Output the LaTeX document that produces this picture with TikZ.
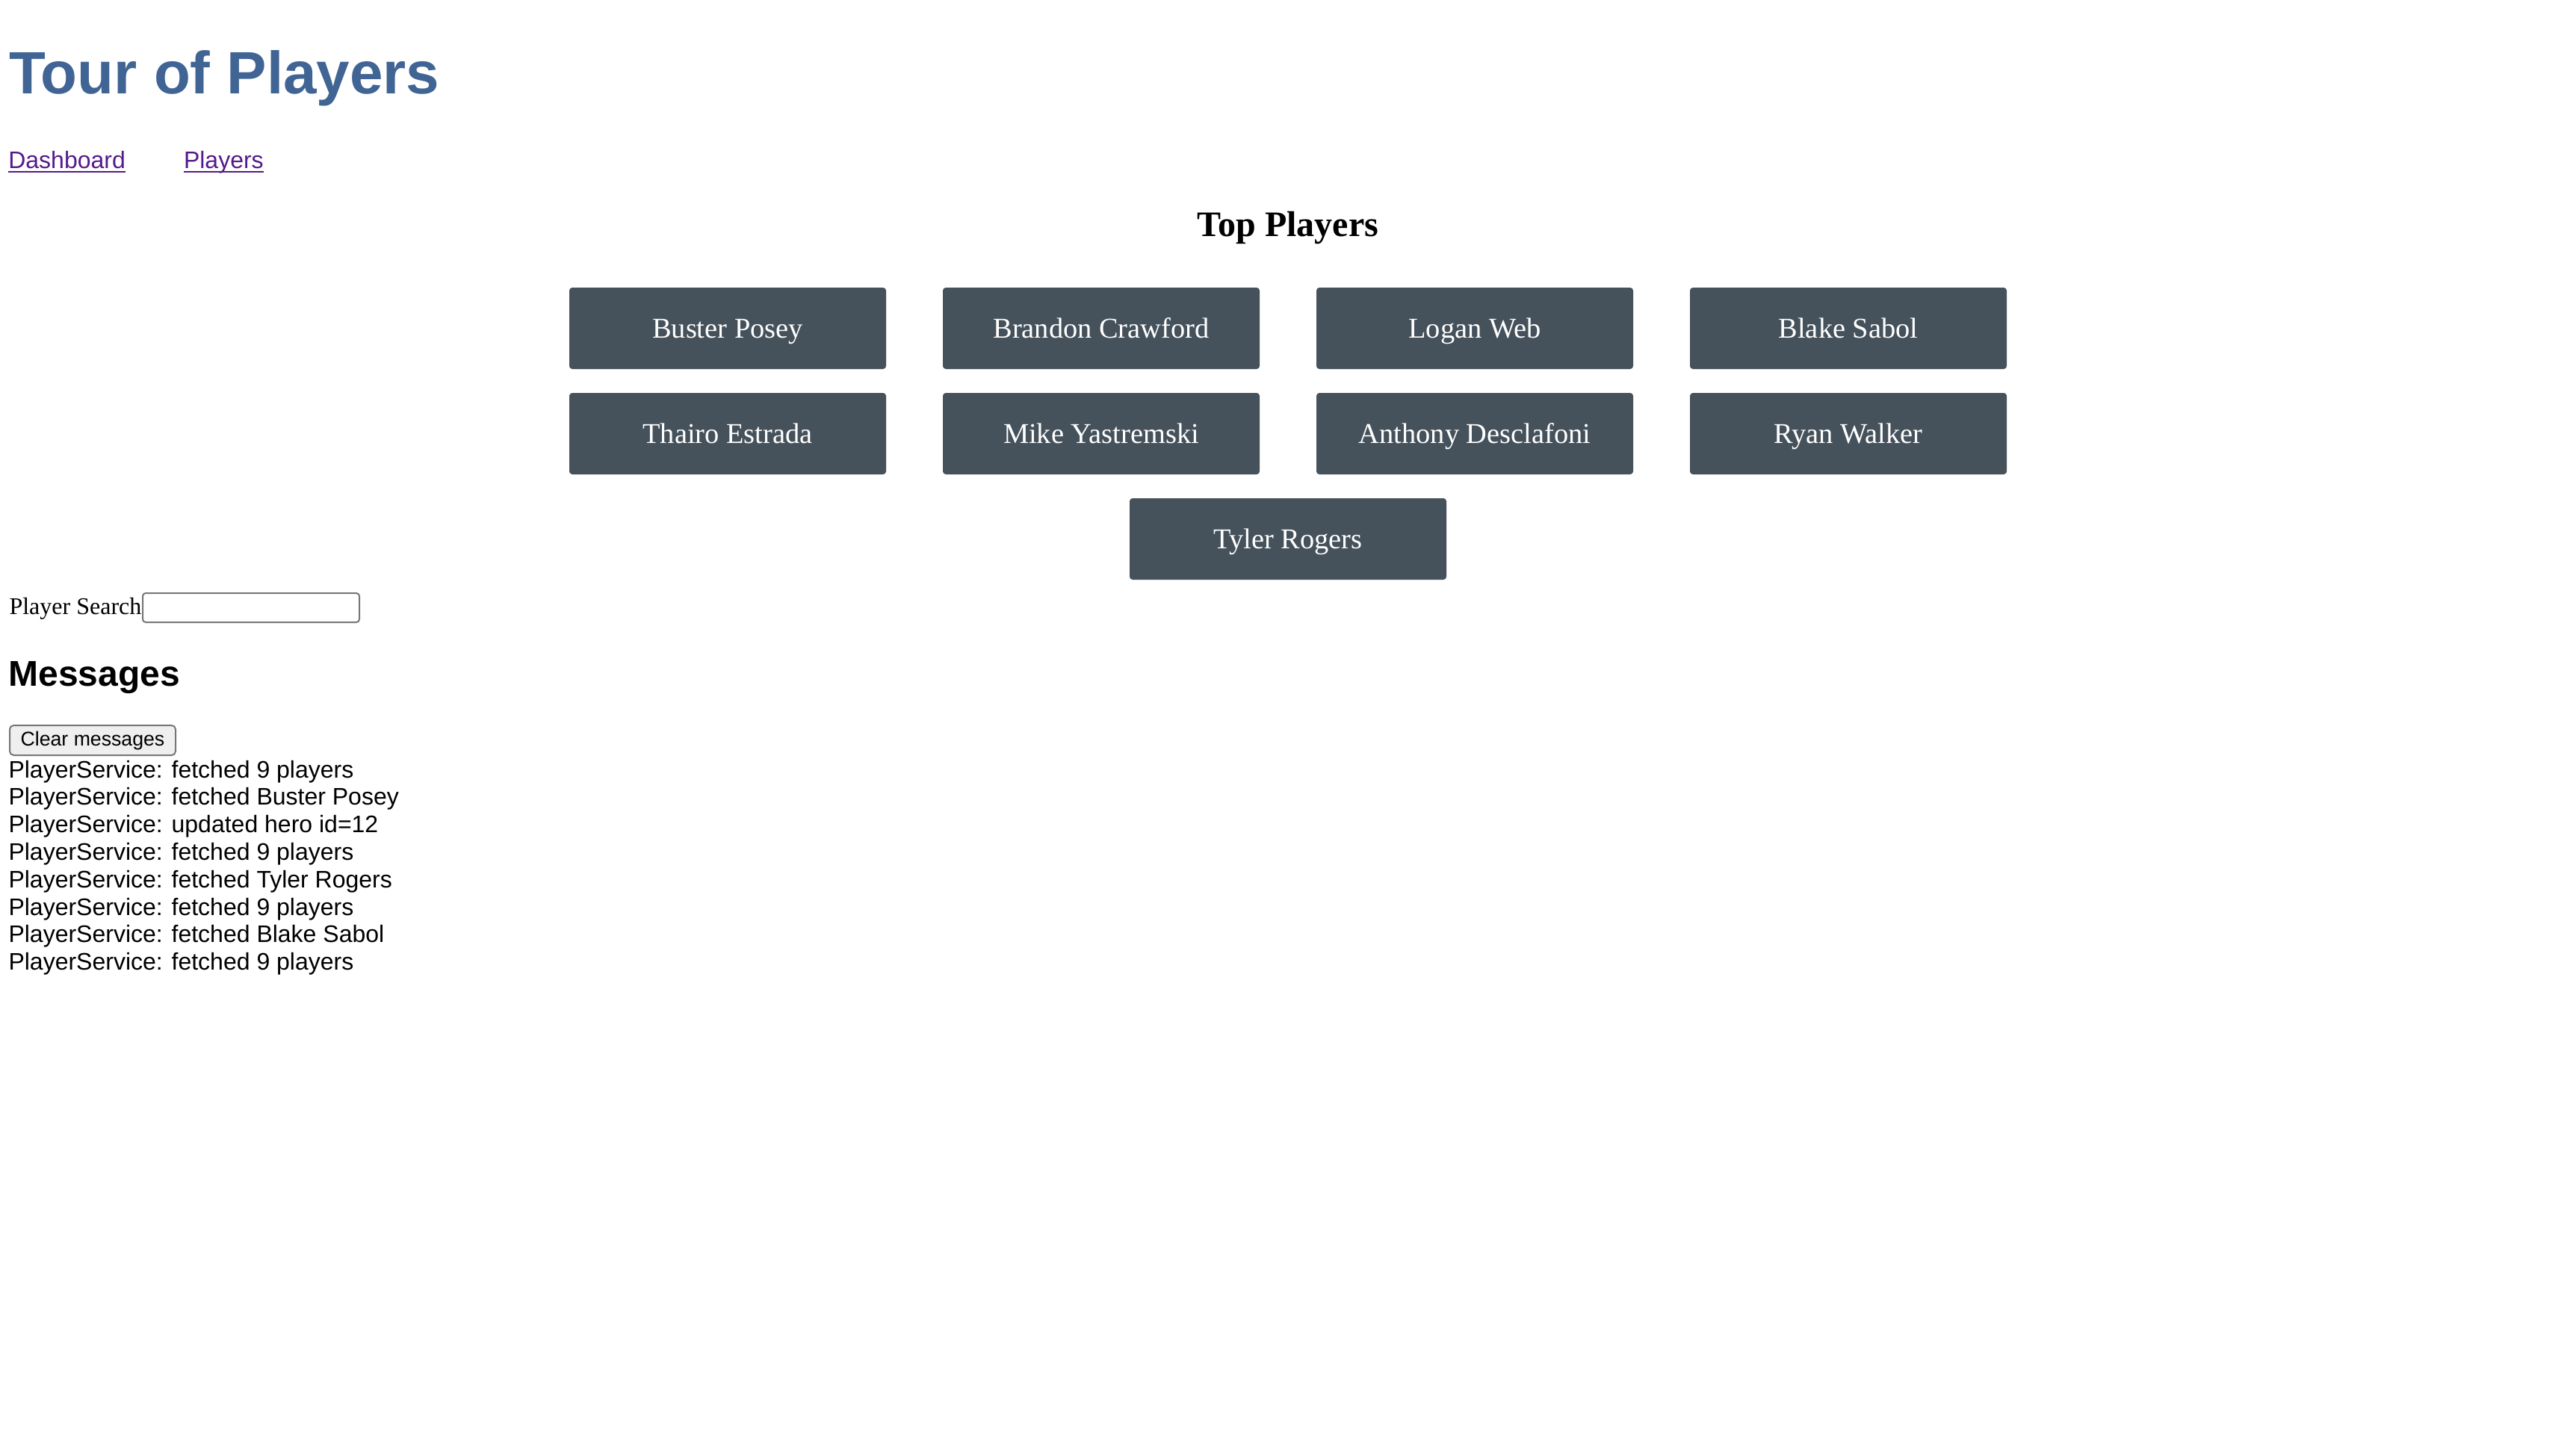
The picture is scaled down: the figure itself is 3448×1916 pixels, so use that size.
\documentclass[tikz,border=0pt]{standalone}
\usepackage{fontspec}
\setmainfont{Liberation Serif}
\setsansfont{Liberation Sans}
\definecolor{titleblue}{RGB}{64,100,148}
\definecolor{linkpurple}{RGB}{85,26,139}
\definecolor{tilegray}{RGB}{69,82,92}
\definecolor{fieldgray}{RGB}{118,118,118}
\definecolor{buttonfill}{RGB}{239,239,239}

\begin{document}
\begin{tikzpicture}[x=0.375pt,y=-0.375pt,
    txt/.style={inner sep=0pt,anchor=base west},
    tile/.style={fill=tilegray,rounded corners=1.5pt,minimum width=159pt,minimum height=40.875pt,inner sep=0pt,
        text=white,font=\fontsize{14.4pt}{17pt}\selectfont,text height=12pt,text depth=2.625pt},
    msg/.style={txt,font=\sffamily\fontsize{12pt}{14pt}\selectfont},
    link/.style={txt,text=linkpurple,font=\sffamily\fontsize{12pt}{14pt}\selectfont}]
        \useasboundingbox (0,0) rectangle (3448,1916);

        % header and navigation
        \node[txt,text=titleblue,font=\sffamily\bfseries\fontsize{30pt}{36pt}\selectfont] (title) at (11.5,125) {Tour of Players};
        \node[link] (dash) at (10.8,225) {Dashboard};
        \node[link] (plist) at (245.5,225) {Players};
        \draw[linkpurple,line width=1pt] ([yshift=-1.9pt]dash.base west) -- ([yshift=-1.9pt]dash.base east);
        \draw[linkpurple,line width=1pt] ([yshift=-1.9pt]plist.base west) -- ([yshift=-1.9pt]plist.base east);

        % dashboard
        \node[inner sep=0pt,anchor=base,font=\bfseries\fontsize{18pt}{21pt}\selectfont] (top) at (1724,316) {Top Players};

        \node[tile] (bp) at (974,439.5) {Buster Posey};
        \node[tile] (bc) at (1474,439.5) {Brandon Crawford};
        \node[tile] (lw) at (1974,439.5) {Logan Web};
        \node[tile] (bs) at (2474,439.5) {Blake Sabol};
        \node[tile] (te) at (974,580.5) {Thairo Estrada};
        \node[tile] (my) at (1474,580.5) {Mike Yastremski};
        \node[tile] (ad) at (1974,580.5) {Anthony Desclafoni};
        \node[tile] (rw) at (2474,580.5) {Ryan Walker};
        \node[tile] (tr) at (1724,721.5) {Tyler Rogers};

        % search
        \node[txt,font=\fontsize{12pt}{14pt}\selectfont] (search) at (12,822) {Player Search};
        \node[draw=fieldgray,line width=0.75pt,rounded corners=1.5pt,minimum width=108.75pt,minimum height=14.625pt,inner sep=0pt] (sbox) at (336,813.5) {};

        % messages
        \node[txt,font=\sffamily\bfseries\fontsize{18pt}{21pt}\selectfont] (msgs) at (11,918) {Messages};
        \node[draw=fieldgray,fill=buttonfill,line width=0.75pt,rounded corners=2pt,minimum width=83.25pt,minimum height=15pt,inner sep=0pt,
            font=\sffamily\fontsize{10pt}{12pt}\selectfont,text height=7.5pt,text depth=2.25pt] (clear) at (124,991) {Clear messages};

        \node[msg] (m1) at (11,1041) {PlayerService: fetched 9 players};
        \node[msg] (m2) at (11,1077.8) {PlayerService: fetched Buster Posey};
        \node[msg] (m3) at (11,1114.6) {PlayerService: updated hero id=12};
        \node[msg] (m4) at (11,1151.4) {PlayerService: fetched 9 players};
        \node[msg] (m5) at (11,1188.2) {PlayerService: fetched Tyler Rogers};
        \node[msg] (m6) at (11,1225) {PlayerService: fetched 9 players};
        \node[msg] (m7) at (11,1261.8) {PlayerService: fetched Blake Sabol};
        \node[msg] (m8) at (11,1298.6) {PlayerService: fetched 9 players};
    \end{tikzpicture}
\end{document}
